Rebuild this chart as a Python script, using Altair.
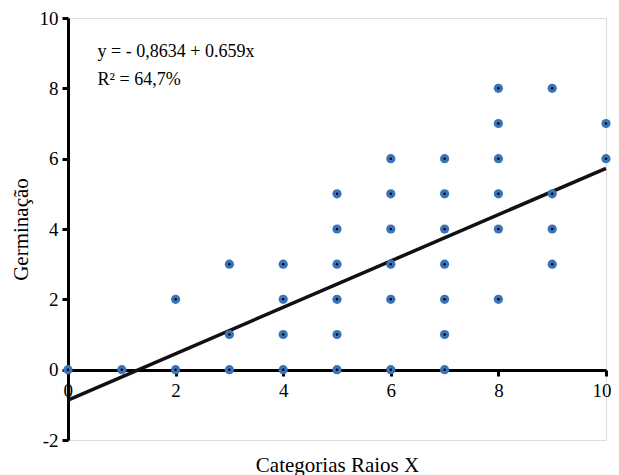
import altair as alt
import pandas as pd

# Observed data (x = category, y = germination)
xs = [0, 1, 2, 2, 3, 3, 3, 4, 4, 4, 4,
      5, 5, 5, 5, 5, 5,
      6, 6, 6, 6, 6, 6,
      7, 7, 7, 7, 7, 7, 7,
      8, 8, 8, 8, 8, 8,
      9, 9, 9, 9,
      10, 10]
ys = [0, 0, 0, 2, 0, 1, 3, 0, 1, 2, 3,
      0, 1, 2, 3, 4, 5,
      0, 2, 3, 4, 5, 6,
      0, 1, 2, 3, 4, 5, 6,
      2, 4, 5, 6, 7, 8,
      3, 4, 5, 8,
      6, 7]

intercept = [-0.8634]
slope = [0.659]
line_x = [0, 10]

eq_text = ["y = - 0,8634 + 0.659x", "R² = 64,7%"]
eq_x = [0.55, 0.55]
eq_y = [9.03, 8.24]

FONT = "Liberation Serif"

pts = pd.DataFrame({"x": xs, "y": ys})
ln = pd.DataFrame({"x": line_x})
txt = pd.DataFrame({"t": eq_text, "x": eq_x, "y": eq_y})

xscale = alt.Scale(domain=[0, 10], nice=False, zero=False)
yscale = alt.Scale(domain=[-2, 10], nice=False, zero=False)

xaxis = alt.Axis(values=[0, 2, 4, 6, 8, 10], grid=False, offset=-70,
                 domainColor="black", domainWidth=3, tickColor="black",
                 tickWidth=3, tickSize=6, labelFont=FONT, labelFontSize=19,
                 labelColor="black", labelPadding=5, labelFlush=True,
                 labelFlushOffset=5,
                 labelExpr="datum.value", title="Categorias Raios X",
                 titleFont=FONT, titleFontSize=21, titleFontWeight="normal",
                 titleColor="black", titlePadding=54)
yaxis = alt.Axis(values=[-2, 0, 2, 4, 6, 8, 10], grid=False,
                 domainColor="black", domainWidth=3, tickColor="black",
                 tickWidth=3, tickSize=6, labelFont=FONT, labelFontSize=19,
                 labelColor="black", labelPadding=4, labelFlush=False,
                 labelExpr="datum.value", title="Germinação",
                 titleFont=FONT, titleFontSize=21, titleFontWeight="normal",
                 titleColor="black", titlePadding=8)

line = alt.Chart(ln).transform_calculate(
    y=f"{intercept[0]} + {slope[0]} * datum.x"
).mark_line(color="#111111", strokeWidth=3.5).encode(
    x=alt.X("x:Q", scale=xscale, axis=xaxis),
    y=alt.Y("y:Q", scale=yscale, axis=yaxis),
)

dots = alt.Chart(pts).mark_circle(color="#3a74b8", opacity=1, size=85).encode(
    x=alt.X("x:Q", scale=xscale),
    y=alt.Y("y:Q", scale=yscale),
)
centers = alt.Chart(pts).mark_circle(color="black", opacity=1, size=6).encode(
    x=alt.X("x:Q", scale=xscale),
    y=alt.Y("y:Q", scale=yscale),
)

text = alt.Chart(txt).mark_text(align="left", baseline="middle", font=FONT,
                                fontSize=18, color="black").encode(
    x=alt.X("x:Q", scale=xscale),
    y=alt.Y("y:Q", scale=yscale),
    text="t:N",
)

chart = alt.layer(line, dots, centers, text).properties(
    width=538, height=422,
    autosize=alt.AutoSizeParams(type="none"),
    padding={"left": 60, "top": 10, "right": 5, "bottom": 36},
).configure_view(stroke=None).configure(background="white")

chart.save("out.html", embed_options={"renderer": "svg", "actions": False})
